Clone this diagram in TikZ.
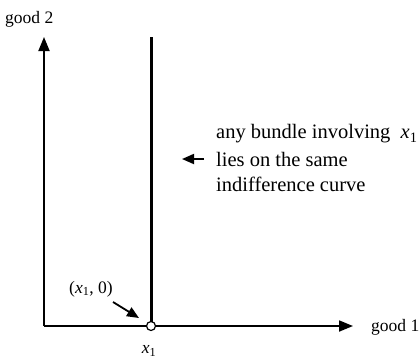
\documentclass[tikz,border=0pt]{standalone}
\usepackage{fontspec}
\setmainfont{Liberation Serif}
\usetikzlibrary{arrows.meta}
\newcommand{\xone}{\textit{x}\textsubscript{1}}
\begin{document}
\begin{tikzpicture}[x=1pt,y=-1pt,
  lbl/.style={inner sep=0pt,font=\fontsize{20.5}{25.5}\selectfont},
  small/.style={inner sep=0pt,font=\fontsize{17.5}{21}\selectfont},
  axis/.style={line width=1.8pt,-{Triangle[length=14pt,width=11pt]}},
  pointer/.style={line width=1.8pt,-{Triangle[length=12pt,width=10pt]}}]
\useasboundingbox (0,0) rectangle (419,360);
\coordinate (O) at (44,326);
\coordinate (ytop) at (44,37);
\coordinate (xend) at (353,326);
\coordinate (vtop) at (151,37);
\draw[axis] (O) -- (ytop);
\draw[axis] (O) -- (xend);
\draw[line width=3pt] (vtop) -- (151,326);
\node[circle,draw,line width=1.2pt,fill=white,minimum size=9pt,inner sep=0pt] (pt) at (151,326) {};
\node[small,anchor=west] (g2) at (5,19) {good 2};
\node[small,anchor=west] (g1) at (371,327) {good 1};
\node[small] (x1) at (149,351) {\xone};
\node[small] (x10) at (91,289) {(\xone, 0)};
\coordinate (pa) at (113,302);
\draw[pointer] (pa) -- (139,318);
\node[lbl,anchor=west] (t1) at (216,134) {any bundle involving \ \xone};
\node[lbl,anchor=west] (t2) at (216,159) {lies on the same};
\node[lbl,anchor=west] (t3) at (216,184.5) {indifference curve};
\coordinate (ta) at (204,159);
\draw[pointer] (ta) -- (182,159);
\end{tikzpicture}
\end{document}
